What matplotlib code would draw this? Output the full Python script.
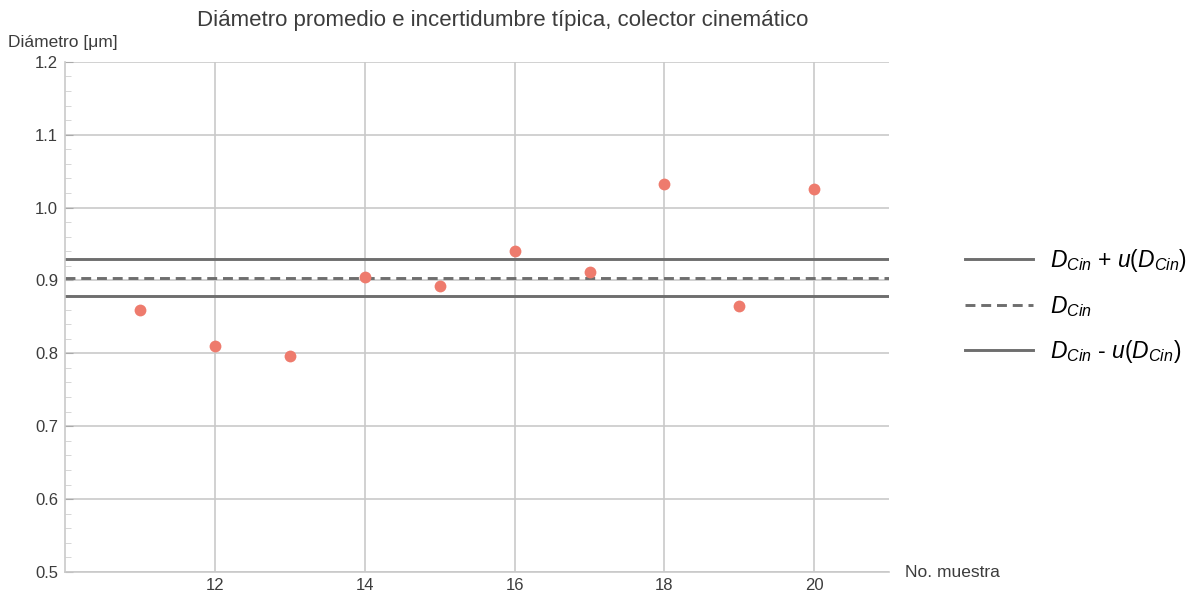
import matplotlib
matplotlib.use("Agg")
import matplotlib.pyplot as plt
from matplotlib.ticker import MultipleLocator

plt.rcParams['font.family'] = ['Liberation Sans', 'DejaVu Sans']
plt.rcParams['mathtext.fontset'] = 'custom'
plt.rcParams['mathtext.it'] = 'Liberation Sans:italic'
plt.rcParams['mathtext.rm'] = 'Liberation Sans'

# Data
muestra = [11, 12, 13, 14, 15, 16, 17, 18, 19, 20]
diametro = [0.860, 0.810, 0.797, 0.905, 0.893, 0.941, 0.912, 1.033, 0.865, 1.025]
d_cin = 0.904
u_cin = 0.025
x_ticks = [12, 14, 16, 18, 20]
y_ticks = [0.5, 0.6, 0.7, 0.8, 0.9, 1.0, 1.1, 1.2]

grid_col = "#c9c9c9"
line_col = "#6e6e6e"
point_col = "#ee7b6d"
text_col = "#3c3c3c"

fig = plt.figure(figsize=(11.91, 5.96), dpi=100)
ax = fig.add_axes([0.0546, 0.0403, 0.692, 0.856])

ax.set_xlim(10, 21)
ax.set_ylim(0.5, 1.2)
ax.set_xticks(x_ticks)
ax.set_yticks(y_ticks)
ax.set_yticklabels([f"{v:.1f}" for v in y_ticks])
ax.yaxis.set_minor_locator(MultipleLocator(0.02))
ax.grid(True, color=grid_col, lw=1.2, zorder=0)
ax.set_axisbelow(True)

ax.axhline(d_cin + u_cin, color=line_col, lw=2.1, label=r"$D_{Cin}$ + $u(D_{Cin})$", zorder=2)
ax.axhline(d_cin, color=line_col, lw=2.1, ls=(0, (3.4, 2.0)), label=r"$D_{Cin}$", zorder=2)
ax.axhline(d_cin - u_cin, color=line_col, lw=2.1, label=r"$D_{Cin}$ - $u(D_{Cin})$", zorder=2)

ax.plot(muestra, diametro, 'o', color=point_col, ms=8.5, mec='none', zorder=3)

for s in ['top', 'right']:
    ax.spines[s].set_visible(False)
for s in ['left', 'bottom']:
    ax.spines[s].set_color(grid_col)
    ax.spines[s].set_linewidth(1.2)

ax.tick_params(axis='x', length=0, labelsize=12, labelcolor=text_col, pad=4)
ax.tick_params(axis='y', which='major', direction='in', length=6, color="#aaaaaa",
               labelsize=12, labelcolor=text_col, pad=5)
ax.tick_params(axis='y', which='minor', direction='in', length=4, color="#d0d0d0")

fig.text(0.422, 0.966, "Diámetro promedio e incertidumbre típica, colector cinemático",
         ha='center', va='center', fontsize=16, color=text_col)
fig.text(0.007, 0.928, "Diámetro [μm]", ha='left', va='center', fontsize=12.5, color=text_col)
fig.text(0.76, 0.040, "No. muestra", ha='left', va='center', fontsize=12.5, color=text_col)

handles, labels = ax.get_legend_handles_labels()
fig.legend(handles, labels, loc='center left', bbox_to_anchor=(0.810, 0.486),
           frameon=False, fontsize=16.5, handlelength=3.0, handletextpad=0.7,
           labelspacing=0.85, borderpad=0, borderaxespad=0)

fig.savefig("out.png", dpi=100)
